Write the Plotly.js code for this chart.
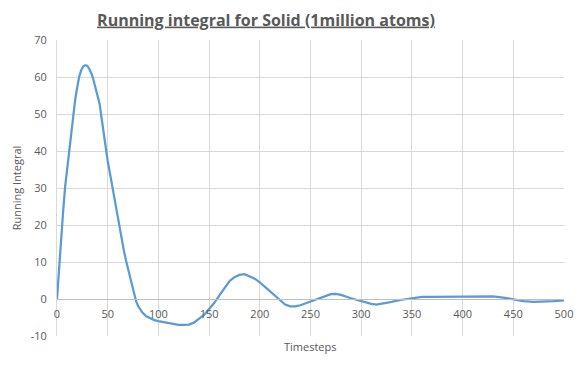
<!DOCTYPE html>
<html>
<head>
<meta charset="utf-8">
<script src="https://cdn.plot.ly/plotly-3.0.1.min.js"></script>
<style>
  html, body { margin: 0; padding: 0; background: #fff; }
  #chart { width: 582px; height: 365px; }
</style>
</head>
<body>
<div id="chart"></div>
<script>
// Running integral sampled over the simulation timesteps
const timesteps = [0, 2, 4, 6, 8, 10, 12, 14, 16, 18, 20, 22, 24, 26, 28, 30, 32, 34, 36, 38,
  40, 42, 44, 46, 48, 50, 52, 54, 56, 58, 60, 62, 64, 66, 68, 70, 72, 74, 76, 78,
  80, 84, 88, 92, 96, 100, 105, 110, 115, 120, 125, 130, 135, 140, 145, 150, 155, 160, 165, 170,
  175, 180, 185, 190, 195, 200, 205, 210, 215, 220, 225, 230, 235, 240, 245, 250, 260, 270, 275, 280,
  290, 300, 310, 315, 320, 330, 340, 350, 360, 370, 380, 390, 400, 410, 420, 430, 440, 450, 460, 470,
  480, 490, 500];
const runningIntegral = [0, 8.7, 17, 23.5, 30.3, 35, 40, 45.3, 50.3, 54, 57.3, 60.2, 61.9, 62.9, 63.2, 63, 62.1, 60.9, 59.2, 57.2,
  54.8, 52.8, 48.8, 44.7, 40.6, 37.3, 34.3, 31.2, 27.9, 24.7, 21.4, 18.4, 15.6, 13, 10.5, 8.1, 5.9, 3.8, 0.9, -0.6,
  -1.9, -3.6, -4.7, -5.3, -5.7, -6.0, -6.3, -6.5, -6.8, -7.0, -7.0, -6.9, -6.4, -5.3, -4.3, -2.7, -1.1, 0.9, 3.0, 4.8,
  5.9, 6.5, 6.7, 6.2, 5.5, 4.5, 3.3, 2.1, 0.8, -0.4, -1.5, -2.0, -2.0, -1.7, -1.2, -0.6, 0.5, 1.3, 1.4, 1.1,
  0.2, -0.6, -1.3, -1.5, -1.3, -0.8, -0.2, 0.3, 0.6, 0.6, 0.6, 0.5, 0.5, 0.7, 0.7, 0.7, 0.4, -0.2, -0.6, -0.8,
  -0.8, -0.6, -0.4];

const xTicks = [0, 50, 100, 150, 200, 250, 300, 350, 400, 450, 500];
const yTicks = [-10, 0, 10, 20, 30, 40, 50, 60, 70];

const textColor = '#595959';
const gridColor = '#d9d9d9';
const axisColor = '#bfbfbf';
const baseFont = 'Open Sans, Liberation Sans, sans-serif';

const trace = {
  x: timesteps,
  y: runningIntegral,
  type: 'scatter',
  mode: 'lines',
  line: { color: '#5b9bd5', width: 2.25, shape: 'linear' },
  hoverinfo: 'skip'
};

const layout = {
  width: 582,
  height: 365,
  margin: { l: 57, r: 18, t: 40, b: 29 },
  paper_bgcolor: '#ffffff',
  plot_bgcolor: '#ffffff',
  showlegend: false,
  font: { family: baseFont, color: textColor, size: 11 },
  title: {
    text: '<u>Running integral for Solid (1million atoms)</u>',
    font: { family: baseFont, size: 16, color: '#595959', weight: 'bold' },
    x: 266 / 582, xanchor: 'center', xref: 'container',
    y: 1 - 20 / 365, yanchor: 'middle', yref: 'container'
  },
  xaxis: {
    range: [0, 500],
    tickvals: xTicks,
    ticktext: xTicks.map(String),
    anchor: 'free',
    position: 10 / 80,
    showgrid: true,
    gridcolor: gridColor,
    gridwidth: 1,
    zeroline: false,
    showline: true,
    linecolor: axisColor,
    linewidth: 1,
    ticks: '',
    ticklabelstandoff: 5,
    tickfont: { family: baseFont, size: 11, color: textColor },
    fixedrange: true
  },
  yaxis: {
    range: [-10, 70],
    tickvals: yTicks,
    ticktext: yTicks.map(String),
    showgrid: true,
    gridcolor: gridColor,
    gridwidth: 1,
    zeroline: true,
    zerolinecolor: axisColor,
    zerolinewidth: 1,
    showline: true,
    linecolor: gridColor,
    linewidth: 1,
    ticks: '',
    ticklabelstandoff: 7,
    tickfont: { family: baseFont, size: 11, color: textColor },
    title: { text: 'Running Integral', font: { family: baseFont, size: 11, color: textColor }, standoff: 6 },
    fixedrange: true
  },
  annotations: [{
    text: 'Timesteps',
    xref: 'paper', yref: 'paper',
    x: 0.5, y: -10 / 296,
    xanchor: 'center', yanchor: 'middle',
    showarrow: false,
    font: { family: baseFont, size: 11, color: textColor }
  }]
};

Plotly.newPlot('chart', [trace], layout, { displayModeBar: false, staticPlot: true });
</script>
</body>
</html>
